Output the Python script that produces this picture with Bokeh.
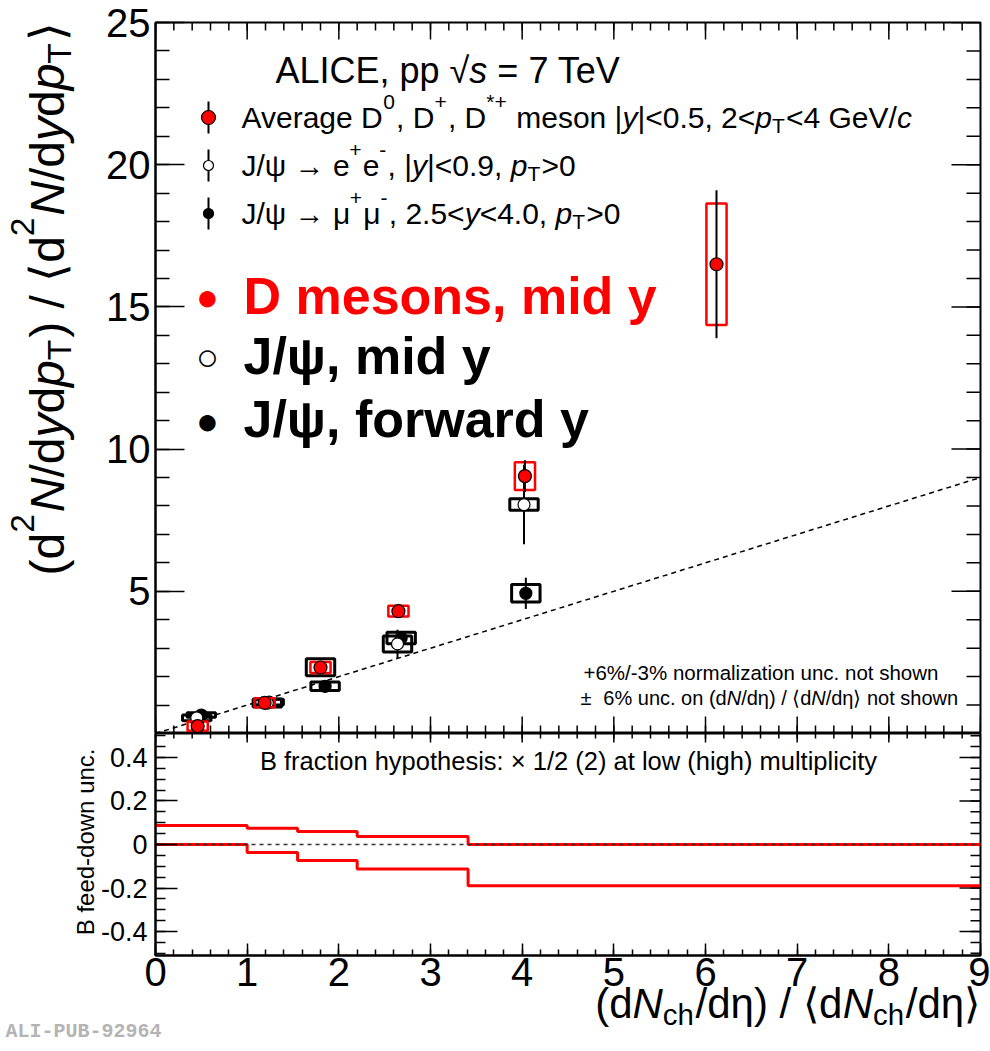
import math
from bokeh.plotting import figure
from bokeh.models import FixedTicker, LinearAxis, Label
from bokeh.layouts import column
from bokeh.embed import file_html
from bokeh.resources import INLINE

# ---------------- data ----------------
d_x = [0.46, 1.19, 1.80, 2.65, 4.03, 6.12]
d_y = [0.26, 1.08, 2.32, 4.30, 9.05, 16.5]
d_stat = [0.08, 0.10, 0.14, 0.15, 0.56, 2.60]
d_sys = [0.16, 0.16, 0.19, 0.19, 0.49, 2.14]

jmid_x = [0.45, 1.22, 1.80, 2.64, 4.02]
jmid_y = [0.55, 1.07, 2.33, 3.15, 8.05]
jmid_stat = [0.05, 0.10, 0.20, 0.50, 1.40]
jmid_sys = [0.10, 0.14, 0.30, 0.28, 0.20]

jfwd_x = [0.50, 1.24, 1.85, 2.68, 4.04]
jfwd_y = [0.65, 1.10, 1.66, 3.36, 4.93]
jfwd_stat = [0.06, 0.05, 0.10, 0.15, 0.55]
jfwd_sys = [0.08, 0.10, 0.15, 0.20, 0.31]

ref_x = [0, 9]
ref_y = [0, 9]
zero_y = [0, 0]

bfd_edges = [0.0, 1.0, 1.55, 2.2, 3.41, 9.0]
bfd_up = [0.087, 0.075, 0.060, 0.037, 0.0]
bfd_lo = [0.0, -0.037, -0.074, -0.112, -0.189]

x_ticks = list(range(0, 10))
y_ticks_top = [5, 10, 15, 20, 25]
y_ticks_bot = [-0.4, -0.2, 0.0, 0.2, 0.4]
y_labels_bot = ["-0.4", "-0.2", "0", "0.2", "0.4"]

# ---------------- layout constants ----------------
FONT = "Liberation Sans"
PAGE_W, PAGE_H = 990, 1051
FL, FR = 155, 980
FW = FR - FL
T_TOP, T_BOT = 22, 733
B_BOT = 955
RED = "#ff0000"
X_RANGE = (0, 9)
YT_RANGE = (0, 25)
YB_RANGE = (-0.51, 0.51)

REG = {' ': .278, '!': .278, '%': .889, '(': .333, ')': .333, '*': .389, '+': .584, ',': .278,
       '-': .333, '.': .278, '/': .278, ':': .278, '<': .584, '=': .584, '>': .584, '|': .26,
       'ψ': .70, 'μ': .576, 'η': .556, '→': 1.0, '±': .584, '×': .584, '√': .549, '⟨': .39, '⟩': .39}
for c in "0123456789":
    REG[c] = .556
for c, w in zip("ABCDEFGHIJKLMNOPQRSTUVWXYZ",
                [.667, .667, .722, .722, .667, .611, .778, .722, .278, .5, .667, .556, .833, .722,
                 .778, .667, .778, .722, .667, .611, .722, .667, .944, .667, .667, .611]):
    REG[c] = w
for c, w in zip("abcdefghijklmnopqrstuvwxyz",
                [.556, .556, .5, .556, .556, .278, .556, .556, .222, .222, .5, .222, .833, .556,
                 .556, .556, .556, .333, .5, .278, .556, .5, .722, .5, .5, .5]):
    REG[c] = w


def tw(s):
    return sum(REG.get(c, 0.556) for c in s)


def label(p, text, X, Y, size, fb, style="normal", color="black", align="left",
          angle=0.0, font=FONT, xo=0.0, yo=0.0):
    """X, Y: page pixels of the text's vertical middle; fb: page coords of frame (left, bottom)."""
    p.add_layout(Label(x=X - fb[0], y=fb[1] - Y, x_units="screen", y_units="screen",
                       text=text, text_font=font, text_font_size=f"{size}px",
                       text_font_style=style, text_color=color, text_align=align,
                       text_baseline="middle", angle=angle, x_offset=xo, y_offset=yo))


def rich(p, runs, X, Y, size, fb, align="left", vertical=False, color="black"):
    items = []
    total = 0.0
    for txt, fl in runs:
        small = ('^' in fl) or ('_' in fl)
        s = size * 0.7 if small else size
        shift = 0.42 * size if '^' in fl else (-0.36 * size if '_' in fl else 0.0)
        lead = len(txt) - len(txt.lstrip(' '))
        items.append((txt.lstrip(' '), fl, s, total + lead * 0.278 * s,
                      shift + 0.35 * (size - s)))
        total += tw(txt) * s + (0.04 * size if small else 0.0)
    start = 0.0 if align == "left" else (-total if align == "right" else -total / 2)
    for txt, fl, s, adv, up in items:
        style = "italic" if 'i' in fl else "normal"
        a = start + adv
        if vertical:
            label(p, txt, X, Y, round(s, 1), fb, style=style, color=color,
                  angle=math.pi / 2, xo=-up, yo=a)
        else:
            label(p, txt, X, Y, round(s, 1), fb, style=style, color=color, xo=a, yo=up)


def make_axis(ticker, tin, tmin, label_size, standoff, overrides=None):
    ax = LinearAxis(ticker=ticker)
    ax.major_tick_in = tin
    ax.major_tick_out = 0
    ax.minor_tick_in = tmin
    ax.minor_tick_out = 0
    ax.axis_line_width = 2
    ax.axis_line_color = "black"
    ax.major_tick_line_width = 1.5
    ax.minor_tick_line_width = 1.5
    ax.major_tick_line_color = "black"
    ax.minor_tick_line_color = "black"
    ax.major_label_text_font = FONT
    ax.major_label_text_font_size = label_size
    ax.major_label_standoff = standoff
    ax.major_label_text_color = "black"
    if overrides:
        ax.major_label_overrides = overrides
    return ax


def edge_ticks(p, side, majors, minors, lmaj, lmin, xr, yr, fw, fh):
    """Inward tick marks on frame edges without labels (mirror of the real axes)."""
    for ticks, L in ((minors, lmin), (majors, lmaj)):
        if side in ("top", "bottom"):
            dy = L / fh * (yr[1] - yr[0])
            y0 = yr[1] if side == "top" else yr[0]
            y1 = y0 - dy if side == "top" else y0 + dy
            p.segment(x0=ticks, x1=ticks, y0=[y0] * len(ticks), y1=[y1] * len(ticks),
                      line_color="black", line_width=1.5)
        else:
            dx = L / fw * (xr[1] - xr[0])
            x0 = xr[1]
            p.segment(x0=[x0] * len(ticks), x1=[x0 - dx] * len(ticks), y0=ticks, y1=ticks,
                      line_color="black", line_width=1.5)


x_minor = [round(i * 0.2, 2) for i in range(46)]
yt_minor = list(range(0, 26))
yb_minor = [round(-0.5 + 0.05 * i, 2) for i in range(21)]

# ---------------- top panel ----------------
TH = T_BOT - T_TOP
top = figure(width=PAGE_W, height=T_BOT, frame_width=FW, frame_height=TH,
             x_range=X_RANGE, y_range=YT_RANGE, x_axis_location=None, y_axis_location=None,
             output_backend="svg", toolbar_location=None,
             min_border_left=FL, min_border_right=PAGE_W - FR, min_border_top=T_TOP,
             min_border_bottom=0)
top.outline_line_color = "black"
top.outline_line_width = 2
top.grid.visible = False
top.add_layout(make_axis(FixedTicker(ticks=y_ticks_top, minor_ticks=yt_minor), 29, 14, "40px", 5),
               "left")
edge_ticks(top, "right", y_ticks_top, yt_minor, 29, 14, X_RANGE, YT_RANGE, FW, TH)
edge_ticks(top, "top", x_ticks, x_minor, 17, 8, X_RANGE, YT_RANGE, FW, TH)
edge_ticks(top, "bottom", x_ticks, x_minor, 17, 8, X_RANGE, YT_RANGE, FW, TH)

top.line(ref_x, ref_y, line_color="black", line_dash="5 4", line_width=1.5)

HW_J = 0.155
HW_D = 0.11


def draw_series(xs, ys, stat, sys, hw, box_color, box_w, fill, size):
    top.quad(left=[x - hw for x in xs], right=[x + hw for x in xs],
             bottom=[y - s for y, s in zip(ys, sys)], top=[y + s for y, s in zip(ys, sys)],
             fill_color=None, line_color=box_color, line_width=box_w)
    top.segment(x0=xs, x1=xs, y0=[y - s for y, s in zip(ys, stat)],
                y1=[y + s for y, s in zip(ys, stat)], line_color="black", line_width=2)
    top.scatter(xs, ys, size=size, fill_color=fill, line_color="black", line_width=1.2)


draw_series(jfwd_x, jfwd_y, jfwd_stat, jfwd_sys, HW_J, "black", 3, "black", 12)
draw_series(jmid_x, jmid_y, jmid_stat, jmid_sys, HW_J, "black", 3, "white", 12)
draw_series(d_x, d_y, d_stat, d_sys, HW_D, RED, 2.5, RED, 13)

TFB = (FL, T_BOT)


def to_top(X, Y):
    return ((X - FL) / FW * 9.0, (T_BOT - Y) / TH * 25.0)


# legend markers
leg_rows = [117, 165, 213]
leg_styles = [(RED, 14), ("white", 10), ("black", 10)]
for Y, (fc, sz) in zip(leg_rows, leg_styles):
    lx, ly = to_top(208, Y)
    _, ly0 = to_top(208, Y + 16)
    _, ly1 = to_top(208, Y - 16)
    top.segment(x0=[lx], x1=[lx], y0=[ly0], y1=[ly1], line_color="black", line_width=2)
    top.scatter([lx], [ly], size=sz, fill_color=fc, line_color="black", line_width=1.2)

# header
rich(top, [("ALICE, pp ", ""), ("√", ""), ("s", "i"), (" = 7 TeV", "")], 275, 70, 36, TFB)

LS = 30
rich(top, [("Average D", ""), ("0", "^"), (", D", ""), ("+", "^"), (", D", ""), ("*+", "^"),
           (" meson |", ""), ("y", "i"), ("|<0.5, 2<", ""), ("p", "i"), ("T", "_"),
           ("<4 GeV/", ""), ("c", "i")], 241, 117, LS, TFB)
rich(top, [("J/ψ → e", ""), ("+", "^"), ("e", ""), ("-", "^"), (", |", ""), ("y", "i"),
           ("|<0.9, ", ""), ("p", "i"), ("T", "_"), (">0", "")], 241, 165, LS, TFB)
rich(top, [("J/ψ → μ", ""), ("+", "^"), ("μ", ""), ("-", "^"), (", 2.5<", ""), ("y", "i"),
           ("<4.0, ", ""), ("p", "i"), ("T", "_"), (">0", "")], 241, 213, LS, TFB)

# big labels
BIG = 52
label(top, "●", 207, 296, 38, TFB, color=RED, align="center")
label(top, "D mesons, mid y", 243, 295, BIG, TFB, style="bold", color=RED)
label(top, "○", 207, 356, 38, TFB, align="center")
label(top, "J/ψ, mid y", 243, 355, BIG, TFB, style="bold")
label(top, "●", 207, 420, 38, TFB, align="center")
label(top, "J/ψ, forward y", 243, 418, BIG, TFB, style="bold")

# notes
label(top, "+6%/-3% normalization unc. not shown", 583, 672, 20.5, TFB)
rich(top, [("± ", ""), (" 6% unc. on (d", ""), ("N", "i"), ("/dη) / ⟨d", ""), ("N", "i"),
           ("/dη⟩ not shown", "")], 580, 697, 20, TFB)

# ---------------- bottom panel ----------------
B_H = PAGE_H - T_BOT
BH = B_BOT - T_BOT
bot = figure(width=PAGE_W, height=B_H, frame_width=FW, frame_height=BH,
             x_range=X_RANGE, y_range=YB_RANGE, x_axis_location=None, y_axis_location=None,
             output_backend="svg", toolbar_location=None,
             min_border_left=FL, min_border_right=PAGE_W - FR, min_border_top=0,
             min_border_bottom=B_H - BH)
bot.outline_line_color = "black"
bot.outline_line_width = 2
bot.grid.visible = False

overrides = {v: s for v, s in zip(y_ticks_bot, y_labels_bot)}
bot.add_layout(make_axis(FixedTicker(ticks=y_ticks_bot, minor_ticks=yb_minor), 22, 10, "27px", 8,
                         overrides), "left")
bot.add_layout(make_axis(FixedTicker(ticks=x_ticks, minor_ticks=x_minor), 12, 6, "40px", 2),
               "below")
edge_ticks(bot, "right", y_ticks_bot, yb_minor, 21, 10, X_RANGE, YB_RANGE, FW, BH)
edge_ticks(bot, "top", x_ticks, x_minor, 9, 5, X_RANGE, YB_RANGE, FW, BH)

bot.step(bfd_edges, bfd_up + [bfd_up[-1]], mode="after", line_color=RED, line_width=3)
bot.step(bfd_edges, bfd_lo + [bfd_lo[-1]], mode="after", line_color=RED, line_width=3)
bot.line(ref_x, zero_y, line_color="#333333", line_dash="4 4", line_width=1.5)

BFB = (FL, B_BOT)
label(bot, "B fraction hypothesis: × 1/2 (2) at low (high) multiplicity", 568, 760, 25.5, BFB,
      align="center")

# ---------------- transparent overlay for texts outside the frames ----------------
OV_L = 1
OV_W = PAGE_W - 2
ov = figure(width=OV_W, height=PAGE_H, frame_width=OV_W, frame_height=PAGE_H,
            x_range=(0, OV_W), y_range=(0, PAGE_H), x_axis_location=None, y_axis_location=None,
            output_backend="svg", toolbar_location=None, min_border=0,
            min_border_left=0, min_border_right=0, min_border_top=0, min_border_bottom=0)
ov.outline_line_color = None
ov.background_fill_color = None
ov.border_fill_color = None
ov.grid.visible = False
ov.margin = (-PAGE_H, 0, 0, OV_L)
OFB = (OV_L, PAGE_H)

rich(ov, [("(d", ""), ("2", "^"), ("N", "i"), ("/d", ""), ("y", "i"), ("d", ""), ("p", "i"),
          ("T", "_"), (") / ⟨d", ""), ("2", "^"), ("N", "i"), ("/d", ""), ("y", "i"), ("d", ""),
          ("p", "i"), ("T", "_"), ("⟩", "")], 47, 22, 48, OFB, align="right", vertical=True)
label(ov, "B feed-down unc.", 85, 748, 24, OFB, align="right", angle=math.pi / 2)
rich(ov, [("(d", ""), ("N", "i"), ("ch", "_"), ("/dη) / ⟨d", ""), ("N", "i"), ("ch", "_"),
          ("/dη⟩", "")], 980, 1003, 42, OFB, align="right")
label(ov, "ALI-PUB-92964", 5, 1031, 20, OFB, style="bold", color="#b4b4b4",
      font="Liberation Mono")

panels = column(top, bot, spacing=0)
layout = column(panels, ov, spacing=0)
open("out.html", "w").write(file_html(layout, INLINE))
